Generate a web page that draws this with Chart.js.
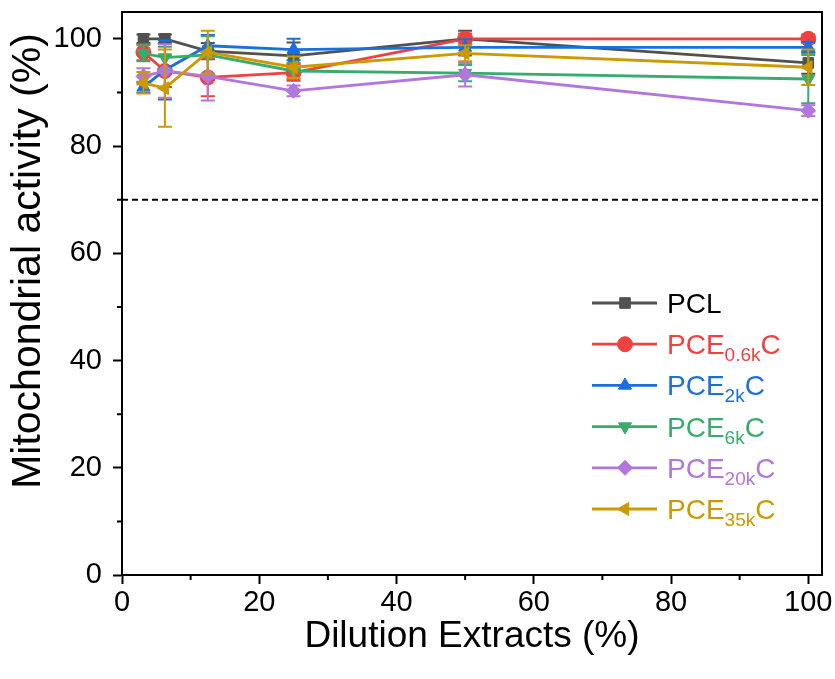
<!DOCTYPE html>
<html>
<head>
<meta charset="utf-8">
<script src="https://cdn.jsdelivr.net/npm/chart.js@4/dist/chart.umd.min.js"></script>
<style>
  html, body { margin: 0; padding: 0; background: #fff; }
  #wrap { width: 835px; height: 679px; }
</style>
</head>
<body>
<div id="wrap"><canvas id="chart" width="835" height="679"></canvas></div>
<script>
// Dilution levels (x) and mitochondrial activity per sample (mean, error)
const dilutions = [3.125, 6.25, 12.5, 25, 50, 100];

const pclValues = [100, 100, 97.7, 96.8, 100, 95.5];
const pclErrors = [0.8, 0.8, 1.5, 2.5, 1.5, 2];
const pce06Values = [97.5, 94, 92.8, 93.7, 100, 100];
const pce06Errors = [1.5, 3, 3.5, 1.5, 1, 0.8];
const pce2Values = [91, 94.2, 98.7, 98, 98.4, 98.4];
const pce2Errors = [1, 5.5, 2, 2, 1.5, 1];
const pce6Values = [97.3, 96.5, 97, 94, 93.6, 92.5];
const pce6Errors = [1.5, 2, 3.5, 1.5, 1.5, 4.5];
const pce20Values = [93, 94, 93, 90.3, 93.3, 86.6];
const pce20Errors = [1.5, 5, 4.5, 1, 2.2, 1];
const pce35Values = [91.8, 90.8, 97.5, 94.7, 97.3, 94.7];
const pce35Errors = [2, 7.2, 4, 2, 1.5, 3.3];

const thresholdValue = 70;
const xTicksMinor = [10, 30, 50, 70, 90];
const yTicksMinor = [10, 30, 50, 70, 90];
const yTitle = 'Mitochondrial activity (%)';

const FONT = '"Liberation Sans", Arial, Helvetica, sans-serif';

// legend labels split into [main, subscript, tail]
const seriesInfo = [
    { label: ['PCL', '', ''], values: pclValues, errors: pclErrors, color: '#515151', text: '#000000', style: 'rect', rot: 0 },
    { label: ['PCE', '0.6k', 'C'], values: pce06Values, errors: pce06Errors, color: '#F14040', text: '#F14040', style: 'circle', rot: 0 },
    { label: ['PCE', '2k', 'C'], values: pce2Values, errors: pce2Errors, color: '#1A6FDF', text: '#1A6FDF', style: 'triangle', rot: 0 },
    { label: ['PCE', '6k', 'C'], values: pce6Values, errors: pce6Errors, color: '#37AD6B', text: '#37AD6B', style: 'triangle', rot: 180 },
    { label: ['PCE', '20k', 'C'], values: pce20Values, errors: pce20Errors, color: '#B177DE', text: '#B177DE', style: 'rectRot', rot: 0 },
    { label: ['PCE', '35k', 'C'], values: pce35Values, errors: pce35Errors, color: '#CC9900', text: '#CC9900', style: 'triangle', rot: -90 }
];

const datasets = seriesInfo.map(function(s, i) {
    return {
        label: s.label.join(''),
        data: dilutions.map((x, j) => ({ x: x, y: s.values[j] })),
        errors: s.errors,
        borderColor: s.color,
        backgroundColor: s.color,
        borderWidth: 2.8,
        pointStyle: s.style,
        pointRotation: s.rot,
        pointRadius: 7.5,
        pointBorderWidth: 1,
        tension: 0,
        order: seriesInfo.length - i
    };
});

// error bars drawn under each series
const errorBars = {
    id: 'errorBars',
    beforeDatasetDraw(chart, args) {
        const ds = chart.data.datasets[args.index];
        const yScale = chart.scales.y;
        const ctx = chart.ctx;
        ctx.save();
        ctx.strokeStyle = ds.borderColor;
        ctx.lineWidth = 2;
        args.meta.data.forEach(function(pt, i) {
            const v = ds.data[i].y;
            const e = ds.errors[i];
            const top = yScale.getPixelForValue(v + e);
            const bot = yScale.getPixelForValue(v - e);
            ctx.beginPath();
            ctx.moveTo(pt.x, top); ctx.lineTo(pt.x, bot);
            ctx.moveTo(pt.x - 7, top); ctx.lineTo(pt.x + 7, top);
            ctx.moveTo(pt.x - 7, bot); ctx.lineTo(pt.x + 7, bot);
            ctx.stroke();
        });
        ctx.restore();
    }
};

// dashed 70% line, frame, minor ticks, y title and legend
const decorations = {
    id: 'decorations',
    beforeDatasetsDraw(chart) {
        const { ctx, chartArea, scales } = chart;
        const y = scales.y.getPixelForValue(thresholdValue);
        ctx.save();
        ctx.strokeStyle = '#000';
        ctx.lineWidth = 2;
        ctx.setLineDash([6, 4]);
        ctx.beginPath();
        ctx.moveTo(chartArea.left, y);
        ctx.lineTo(chartArea.right, y);
        ctx.stroke();
        ctx.restore();
    },
    afterDraw(chart) {
        const { ctx, chartArea, scales } = chart;
        ctx.save();
        ctx.strokeStyle = '#000';
        ctx.lineWidth = 2;
        ctx.strokeRect(chartArea.left, chartArea.top, chartArea.right - chartArea.left, chartArea.bottom - chartArea.top);
        ctx.beginPath();
        xTicksMinor.forEach(function(v) {
            const x = scales.x.getPixelForValue(v);
            ctx.moveTo(x, chartArea.bottom);
            ctx.lineTo(x, chartArea.bottom + 5);
        });
        yTicksMinor.forEach(function(v) {
            const y = scales.y.getPixelForValue(v);
            ctx.moveTo(chartArea.left, y);
            ctx.lineTo(chartArea.left - 5, y);
        });
        ctx.stroke();

        // y axis title, sits a bit above the axis centre
        ctx.save();
        ctx.translate(29, 261);
        ctx.rotate(-Math.PI / 2);
        ctx.fillStyle = '#000';
        ctx.font = '41px ' + FONT;
        ctx.textAlign = 'center';
        ctx.textBaseline = 'middle';
        ctx.fillText(yTitle, 0, 0);
        ctx.restore();

        // legend
        const x0 = 592, x1 = 657, xm = 625, xt = 667;
        const yStart = 303, step = 41.2;
        seriesInfo.forEach(function(s, i) {
            const y = yStart + i * step;
            ctx.strokeStyle = s.color;
            ctx.lineWidth = 2.8;
            ctx.beginPath();
            ctx.moveTo(x0, y);
            ctx.lineTo(x1, y);
            ctx.stroke();
            ctx.fillStyle = s.color;
            ctx.lineWidth = 1;
            Chart.helpers.drawPoint(ctx, { pointStyle: s.style, rotation: s.rot, radius: 7.5, borderWidth: 1 }, xm, y);
            ctx.fillStyle = s.text;
            ctx.textBaseline = 'alphabetic';
            ctx.textAlign = 'left';
            const base = y + 10;
            ctx.font = '28px ' + FONT;
            let tx = xt;
            ctx.fillText(s.label[0], tx, base);
            tx += ctx.measureText(s.label[0]).width;
            if (s.label[1]) {
                ctx.font = '19px ' + FONT;
                ctx.fillText(s.label[1], tx, base + 7);
                tx += ctx.measureText(s.label[1]).width;
                ctx.font = '28px ' + FONT;
                ctx.fillText(s.label[2], tx, base);
            }
        });
        ctx.restore();
    }
};

const ctx = document.getElementById('chart').getContext('2d');
new Chart(ctx, {
    type: 'line',
    data: { datasets: datasets },
    options: {
        responsive: false,
        animation: false,
        layout: { padding: { top: 12, right: 13, left: 0, bottom: 0 } },
        plugins: {
            legend: { display: false },
            tooltip: { enabled: false }
        },
        scales: {
            x: {
                type: 'linear',
                min: 0,
                max: 102,
                afterFit: function(scale) {
                    scale.height = 104;
                    scale.paddingLeft = 0;
                    scale.paddingRight = 0;
                },
                border: { display: true, color: '#000', width: 2 },
                grid: { display: true, drawOnChartArea: false, drawTicks: true, tickLength: 9, tickWidth: 2, tickColor: '#000' },
                ticks: {
                    stepSize: 20,
                    includeBounds: false,
                    maxRotation: 0,
                    color: '#000',
                    padding: 2,
                    font: { family: FONT, size: 29 }
                },
                title: {
                    display: true,
                    text: 'Dilution Extracts (%)',
                    color: '#000',
                    padding: { top: 0, bottom: 20 },
                    font: { family: FONT, size: 37 }
                }
            },
            y: {
                min: 0,
                max: 105,
                afterFit: function(scale) {
                    scale.width = 122;
                    scale.paddingTop = 0;
                    scale.paddingBottom = 0;
                },
                border: { display: true, color: '#000', width: 2 },
                grid: { display: true, drawOnChartArea: false, drawTicks: true, tickLength: 9, tickWidth: 2, tickColor: '#000' },
                ticks: {
                    stepSize: 20,
                    includeBounds: false,
                    color: '#000',
                    padding: 11,
                    font: { family: FONT, size: 29 }
                },
                title: { display: false }
            }
        }
    },
    plugins: [errorBars, decorations]
});
</script>
</body>
</html>
